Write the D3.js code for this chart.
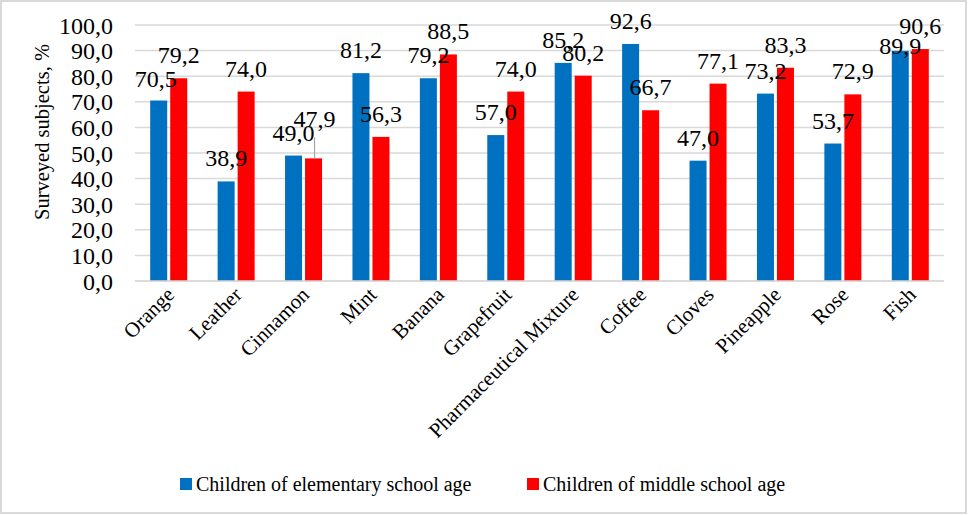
<!DOCTYPE html>
<html>
<head>
<meta charset="utf-8">
<script src="https://cdn.jsdelivr.net/npm/d3@7"></script>
<style>
  body { margin: 0; background: #fff; }
</style>
</head>
<body>
<div id="chart"></div>
<script>
var categories = ["Orange", "Leather", "Cinnamon", "Mint", "Banana", "Grapefruit",
  "Pharmaceutical Mixture", "Coffee", "Cloves", "Pineapple", "Rose", "Fish"];
var elementary = [70.5, 38.9, 49.0, 81.2, 79.2, 57.0, 85.2, 92.6, 47.0, 73.2, 53.7, 89.9];
var middle = [79.2, 74.0, 47.9, 56.3, 88.5, 74.0, 80.2, 66.7, 77.1, 83.3, 72.9, 90.6];
var seriesNames = ["Children of elementary school age", "Children of middle school age"];
var yTicks = [0, 10, 20, 30, 40, 50, 60, 70, 80, 90, 100];

var colors = ["#0070C0", "#FF0000"];
var serifFont = "'Liberation Serif'";

// label nudges (px) where Excel moved a label off its default spot
var nudge = {
  "0-0": [-3, 1],
  "1-2": [1, -16],   // Cinnamon, middle school: has a leader line
  "0-11": [0, 18]    // Fish, elementary: sits on the bar top
};

var svgWidth = 968;
var svgHeight = 515;

var svg = d3.select("#chart")
  .append("svg")
  .attr("width", svgWidth)
  .attr("height", svgHeight);

// outer frame
svg.append("rect")
  .attr("x", 1).attr("y", 1)
  .attr("width", svgWidth - 3).attr("height", svgHeight - 3)
  .attr("fill", "#fff")
  .attr("stroke", "#d9d9d9")
  .attr("stroke-width", 2);

var plot = { left: 135, right: 944, top: 25, bottom: 281 };

var x0 = d3.scaleBand()
  .domain(categories)
  .range([plot.left, plot.right])
  .paddingInner(0.451)
  .paddingOuter(0.2255);

var x1 = d3.scaleBand()
  .domain([0, 1])
  .range([0, x0.bandwidth()])
  .paddingInner(0.15);

var y = d3.scaleLinear()
  .domain([0, 100])
  .range([plot.bottom, plot.top]);

// gridlines
svg.append("g")
  .selectAll("line")
  .data(yTicks)
  .enter()
  .append("line")
  .attr("x1", plot.left)
  .attr("x2", plot.right)
  .attr("y1", d => y(d))
  .attr("y2", d => y(d))
  .attr("stroke", "#d9d9d9")
  .attr("stroke-width", 1.5);

// y axis labels
var leftAxis = d3.axisLeft(y)
  .tickValues(yTicks)
  .tickSize(0)
  .tickPadding(22)
  .tickFormat(d => d3.format(".1f")(d).replace(".", ","));

var yAxisG = svg.append("g")
  .attr("transform", `translate(${plot.left}, 0)`)
  .call(leftAxis);
yAxisG.select(".domain").remove();
yAxisG.selectAll("text")
  .style("font-family", serifFont)
  .style("font-size", "24px")
  .attr("fill", "#000")
  .attr("dy", "0.34em");

// y title
svg.append("text")
  .attr("transform", "translate(49, 132) rotate(-90)")
  .attr("text-anchor", "middle")
  .style("font-family", serifFont)
  .style("font-size", "20.5px")
  .text("Surveyed subjects, %");

// bars
var rows = categories.map((c, i) => ({ cat: c, i: i, vals: [elementary[i], middle[i]] }));

var groups = svg.append("g")
  .selectAll("g")
  .data(rows)
  .enter()
  .append("g")
  .attr("transform", d => `translate(${x0(d.cat)}, 0)`);

groups.selectAll("rect")
  .data(d => d.vals.map((v, s) => ({ v: v, s: s, i: d.i })))
  .enter()
  .append("rect")
  .attr("x", d => x1(d.s))
  .attr("y", d => y(d.v))
  .attr("width", x1.bandwidth())
  .attr("height", d => y(0) - y(d.v))
  .attr("fill", d => colors[d.s]);

// axis line on top of bars
svg.append("line")
  .attr("x1", plot.left).attr("x2", plot.right)
  .attr("y1", y(0)).attr("y2", y(0))
  .attr("stroke", "#d9d9d9")
  .attr("stroke-width", 1.5);

// leader line for the moved Cinnamon label
var cinI = categories.indexOf("Cinnamon");
svg.append("line")
  .attr("x1", x0("Cinnamon") + x1(1) + x1.bandwidth() / 2 + 1)
  .attr("x2", x0("Cinnamon") + x1(1) + x1.bandwidth() / 2 + 1)
  .attr("y1", y(middle[cinI]) - 21)
  .attr("y2", y(middle[cinI]))
  .attr("stroke", "#a6a6a6")
  .attr("stroke-width", 1.2);

// data labels
groups.selectAll("text.val")
  .data(d => d.vals.map((v, s) => ({ v: v, s: s, i: d.i })))
  .enter()
  .append("text")
  .attr("class", "val")
  .attr("text-anchor", "middle")
  .style("font-family", serifFont)
  .style("font-size", "24px")
  .attr("x", d => x1(d.s) + x1.bandwidth() / 2 + (nudge[d.s + "-" + d.i] || [0, 0])[0])
  .attr("y", d => y(d.v) - 15 + (nudge[d.s + "-" + d.i] || [0, 0])[1])
  .text(d => d3.format(".1f")(d.v).replace(".", ","));

// category labels
svg.append("g")
  .selectAll("text")
  .data(categories)
  .enter()
  .append("text")
  .attr("text-anchor", "end")
  .style("font-family", serifFont)
  .style("font-size", "21px")
  .attr("transform", d => `translate(${x0(d) + x0.bandwidth() / 2 + 7}, 296) rotate(-45)`)
  .text(d => d);

// legend
var legendX = [180, 527];
var legend = svg.append("g")
  .selectAll("g")
  .data(seriesNames)
  .enter()
  .append("g")
  .attr("transform", (d, i) => `translate(${legendX[i]}, 478)`);

legend.append("rect")
  .attr("width", 12)
  .attr("height", 12)
  .attr("fill", (d, i) => colors[i]);

legend.append("text")
  .attr("x", 16)
  .attr("y", 13)
  .style("font-family", serifFont)
  .style("font-size", "20px")
  .text(d => d);
</script>
</body>
</html>
